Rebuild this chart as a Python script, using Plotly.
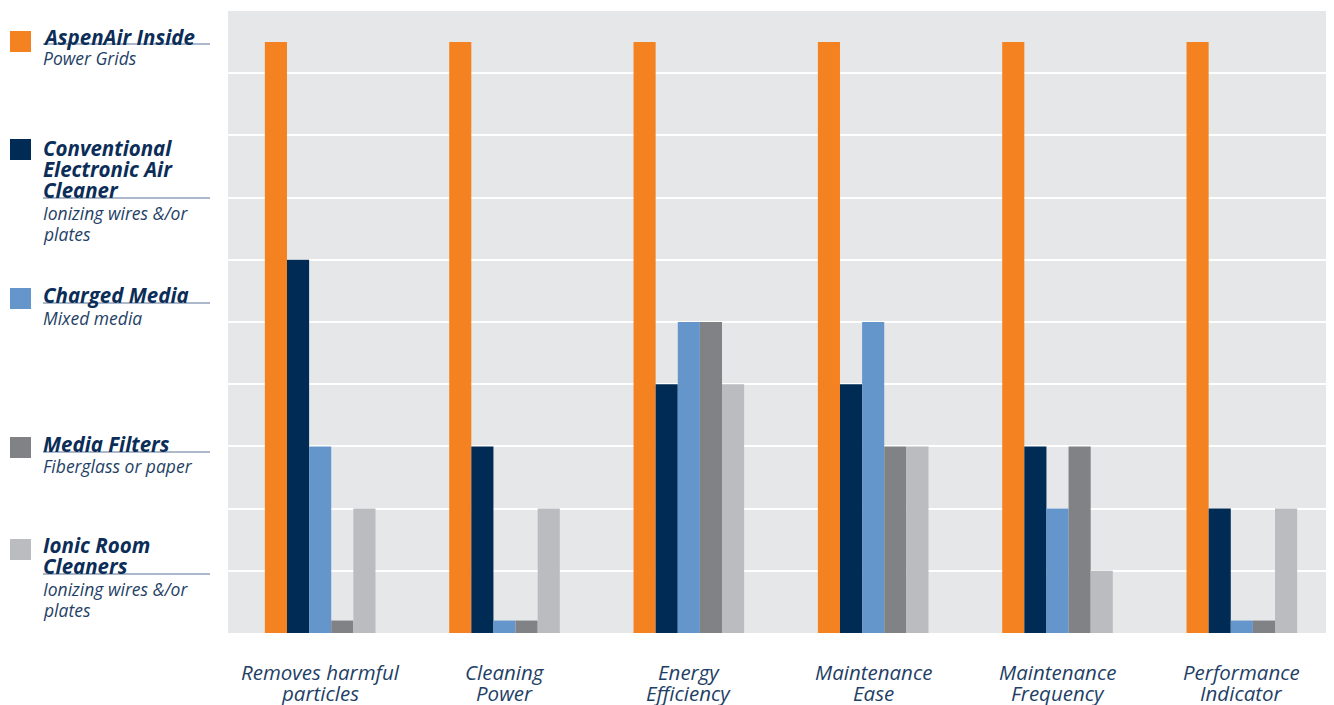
import plotly.graph_objects as go

categories = ["Removes harmful particles", "Cleaning Power", "Energy Efficiency",
              "Maintenance Ease", "Maintenance Frequency", "Performance Indicator"]
category_lines = [["Removes harmful", "particles"], ["Cleaning", "Power"], ["Energy", "Efficiency"],
                  ["Maintenance", "Ease"], ["Maintenance", "Frequency"], ["Performance", "Indicator"]]

aspenair = [9.5, 9.5, 9.5, 9.5, 9.5, 9.5]
conventional = [6, 3, 4, 4, 3, 2]
charged_media = [3, 0.2, 5, 5, 2, 0.2]
media_filters = [0.2, 0.2, 5, 3, 3, 0.2]
ionic = [2, 2, 4, 3, 1, 2]

series_names = ["AspenAir Inside", "Conventional Electronic Air Cleaner", "Charged Media",
                "Media Filters", "Ionic Room Cleaners"]
series_values = [aspenair, conventional, charged_media, media_filters, ionic]
colors = ["#f58220", "#002b55", "#6596cb", "#818285", "#bbbcbf"]

legend_title_lines = [["AspenAir Inside"], ["Conventional", "Electronic Air", "Cleaner"],
                      ["Charged Media"], ["Media Filters"], ["Ionic Room", "Cleaners"]]
legend_sub_lines = [["Power Grids"], ["Ionizing wires &/or", "plates"], ["Mixed media"],
                    ["Fiberglass or paper"], ["Ionizing wires &/or", "plates"]]

# page is rendered with an 8px body margin, so the figure is offset by 8px
OFF = 8
W, H = 1334 - OFF, 705 - OFF
ML, MR, MT, MB = 228 - OFF, 0, 11 - OFF, 705 - 633
PW, PH = W - ML - MR, H - MT - MB


def px(x):
    return (x - OFF - ML) / PW


def py(y):
    return (H - MB - (y - OFF)) / PH


fig = go.Figure()
for name, vals, col in zip(series_names, series_values, colors):
    fig.add_trace(go.Bar(x=categories, y=vals, name=name, marker=dict(color=col, line=dict(width=0)),
                         hoverinfo="skip"))

TEXT = "#0b2d57"
SUB = "#1f3f66"
FONT = "Open Sans"
LINE = 21

# legend layout (page pixels): square top, first title line centre, underline y, first subtitle line centre
legend_layout = [
    (31, 37, 44, 58),
    (139, 148, 198, 213),
    (288, 295, 303, 318),
    (437, 444, 452, 466),
    (539, 545, 574, 589),
]

shapes = []
annotations = []
for (sq, tc, ul, sc), col, tl, sl in zip(legend_layout, colors, legend_title_lines, legend_sub_lines):
    shapes.append(dict(type="rect", xref="paper", yref="paper", x0=px(10), x1=px(31),
                       y0=py(sq + 21), y1=py(sq), fillcolor=col, line=dict(width=0)))
    shapes.append(dict(type="line", xref="paper", yref="paper", x0=px(43), x1=px(210),
                       y0=py(ul), y1=py(ul), line=dict(color="#5a7497", width=1.2)))
    for i, t in enumerate(tl):
        annotations.append(dict(xref="paper", yref="paper", x=px(41), y=py(tc + i * LINE),
                                xanchor="left", yanchor="middle", align="left", showarrow=False,
                                text="<b><i>" + t + "</i></b>",
                                font=dict(family=FONT, size=20.5, color=TEXT)))
    for i, s in enumerate(sl):
        annotations.append(dict(xref="paper", yref="paper", x=px(41), y=py(sc + i * LINE),
                                xanchor="left", yanchor="middle", align="left", showarrow=False,
                                text="<i>" + s + "</i>",
                                font=dict(family=FONT, size=17.5, color=SUB)))

for cat, lines in zip(categories, category_lines):
    for i, t in enumerate(lines):
        annotations.append(dict(xref="x", yref="paper", x=cat, y=py(672 + i * LINE),
                                xanchor="center", yanchor="middle", showarrow=False,
                                text="<i>" + t + "</i>",
                                font=dict(family=FONT, size=20.5, color=SUB)))

fig.update_layout(
    width=W, height=H,
    margin=dict(l=ML, r=MR, t=MT, b=MB, pad=0, autoexpand=False),
    paper_bgcolor="white",
    plot_bgcolor="#e6e7e9",
    barmode="group",
    bargap=0.40,
    bargroupgap=0,
    showlegend=False,
    shapes=shapes,
    annotations=annotations,
    font=dict(family=FONT, color=SUB),
)
fig.update_xaxes(showgrid=False, zeroline=False, showline=False, showticklabels=False,
                 automargin=False)
fig.update_yaxes(range=[0, 10], dtick=1, showgrid=True, gridcolor="white", gridwidth=1.5,
                 zeroline=False, showticklabels=False, showline=False, automargin=False)

fig.write_html("out.html")
